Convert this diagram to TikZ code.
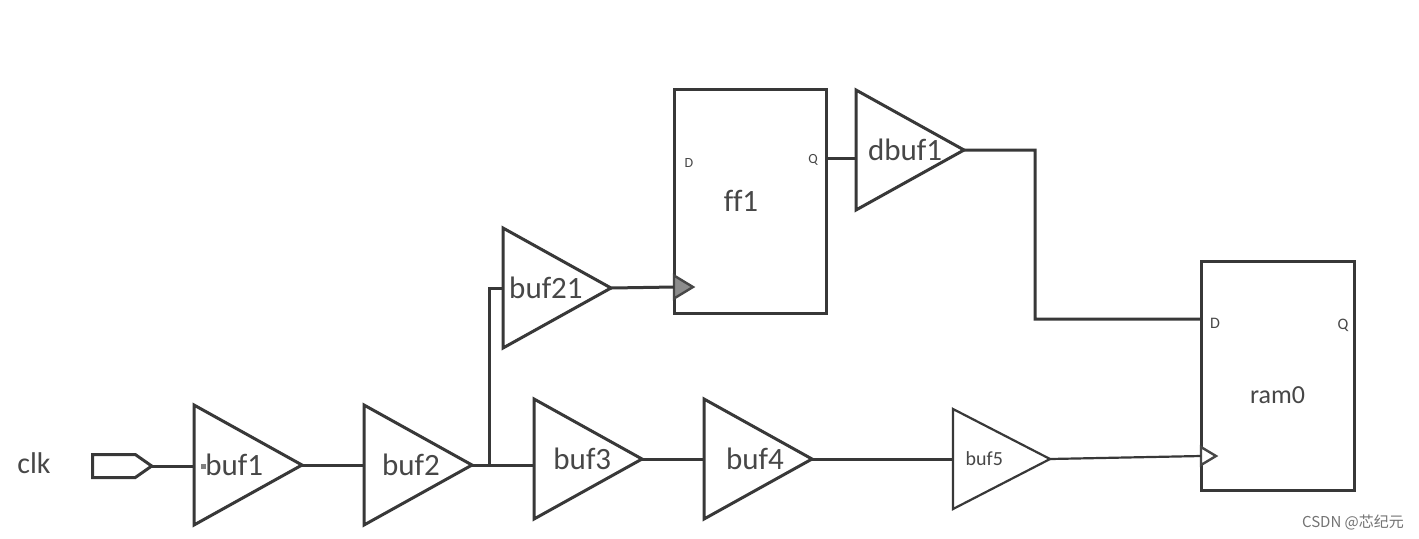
\documentclass[tikz,border=0pt]{standalone}
\usepackage{fontspec}
\setmainfont[Ligatures=NoCommon]{Carlito}
\newfontfamily\wmfont{Noto Sans CJK SC}
\usetikzlibrary{positioning, shapes.geometric, shapes.symbols}

\begin{document}
\begin{tikzpicture}[
    x=0.5pt, y=-0.5pt,
    node distance=31pt,
    every node/.style={font=\fontsize{15.5}{17}\selectfont, text=black!72, align=center},
    wire/.style={line width=1.5pt, draw=black!78},
    buffer/.style={isosceles triangle, isosceles triangle stretches, shape border rotate=0, draw=black!78, line width=1.5pt, fill=white, inner sep=0pt, outer sep=0pt, minimum width=60pt, minimum height=54pt},
    flop/.style={rectangle, draw=black!78, line width=1.5pt, inner sep=0pt, outer sep=0pt},
    clkpin/.style={isosceles triangle, isosceles triangle stretches, shape border rotate=0, draw=black!72, line width=1.2pt, inner sep=0pt, outer sep=0pt, minimum width=11.5pt, minimum height=9.5pt},
    pin/.style={font=\fontsize{7}{8}\selectfont}
]
\useasboundingbox (0,0) rectangle (1419,538);
\fill[white] (0,0) rectangle (1419,538);

\node[font=\fontsize{15}{17}\selectfont] (clklabel) at (34,463) {clk};
\node[signal, signal to=east, signal pointer angle=70, draw=black!78, line width=1.5pt, inner sep=0pt, outer sep=0pt, minimum width=29.5pt, minimum height=11.5pt] (clk) at (114,466) {};

\node[buffer, anchor=west] (buf1) at (194,465) {\hspace*{1pt}buf1};
\node[buffer, right=of buf1] (buf2) {\hspace*{6pt}buf2};
\node[buffer, right=of buf2, yshift=3pt] (buf3) {\hspace*{7pt}buf3};
\node[buffer, right=31pt of buf3] (buf4) {\hspace*{9pt}buf4};
\node[buffer, right=70.5pt of buf4, line width=1.1pt, minimum width=50pt, minimum height=48.5pt, font=\fontsize{10}{12}\selectfont] (buf5) {buf5\hspace*{3pt}};
\node[buffer, anchor=west] (buf21) at (503,288) {\hspace*{1pt}buf21};

\node[flop, minimum width=76pt, minimum height=112pt, anchor=north west] (ff1) at (674,89) {ff1\hspace*{9pt}};
\node[buffer, anchor=west] (dbuf1) at (856,150) {\hspace*{15pt}\makebox[0pt]{dbuf1}};
\node[flop, minimum width=76.5pt, minimum height=114.5pt, anchor=north west, font=\fontsize{13}{15}\selectfont] (ram0) at (1201,261) {\raisebox{-14pt}[0pt][0pt]{ram0}};

% pins
\node[rectangle, fill=black!50, inner sep=0pt, minimum size=2.5pt] (buf1pin) at (203,466) {};
\node[clkpin, fill=black!45, anchor=west] (ffclk) at (ff1.west |- 0,287) {};
\node[clkpin, fill=white, anchor=west, minimum width=9pt, minimum height=7.5pt] (ramclk) at (ram0.west |- 0,456) {};
\node[pin] (ffd) at (689,163) {D};
\node[pin] (ffq) at (813,160) {Q};
\node[pin, font=\fontsize{8}{9}\selectfont] (ramd) at (1215,323) {D};
\node[pin, font=\fontsize{8}{9}\selectfont] (ramq) at (1343,325) {Q};
\coordinate (ffout) at (ff1.east |- 0,158);
\coordinate (ramin) at (ram0.west |- 0,319);
\coordinate (split) at (489,466);
\coordinate (bend) at (1035,150);

\draw[wire] (clk.east) -- (buf1.west |- clk.east);
\draw[wire] (buf1.east) -- (buf2.west);
\draw[wire] (buf2.east) -- (buf3.west |- buf2.east);
\draw[wire] (split) |- (buf21.west);
\draw[wire] (buf21.east) -- (ffclk.west);
\draw[wire] (buf3.east) -- (buf4.west);
\draw[wire] (buf4.east) -- (buf5.west);
\draw[wire, line width=1.1pt] (buf5.east) -- (ramclk.west);
\draw[wire] (ffout) -- (dbuf1.west |- ffout);
\draw[wire] (dbuf1.east) -- (bend) |- (ramin);

\node[font=\wmfont\fontsize{7.5}{9}\selectfont, text=black!55] (mark) at (1353,522) {CSDN @芯纪元};
\end{tikzpicture}
\end{document}
